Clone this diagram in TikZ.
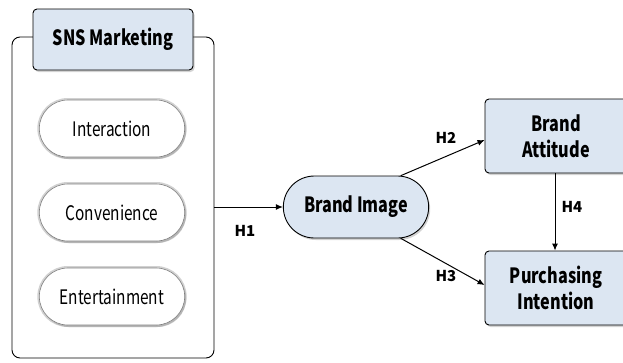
\documentclass[tikz,border=0pt]{standalone}
\usepackage{fontspec}
\setmainfont{Noto Sans CJK KR}
\newfontfamily\tallfont{Noto Sans CJK KR}[FakeStretch=0.77]
\usetikzlibrary{arrows.meta,shadows,shapes.misc}
\definecolor{boxblue}{HTML}{DCE6F2}
\tikzset{
  shade/.style={drop shadow={shadow xshift=1.5pt, shadow yshift=-2pt, opacity=0.35}},
  group/.style={draw=black, line width=0.9pt, rounded corners=8pt},
  title/.style={draw=black, line width=0.9pt, rounded corners=4pt, fill=boxblue, shade,
    minimum width=160pt, minimum height=61pt, font=\tallfont\bfseries\fontsize{21}{26}\selectfont},
  pill/.style={rounded rectangle, fill=white, draw=black!50, line width=0.6pt,
    preaction={draw=black!18, line width=4pt}, shade,
    minimum width=152pt, minimum height=57pt, font=\tallfont\fontsize{20}{26}\selectfont},
  core/.style={rounded rectangle, draw=black, line width=0.9pt, fill=boxblue, shade,
    minimum width=152pt, minimum height=62pt, font=\tallfont\bfseries\fontsize{21}{26}\selectfont},
  result/.style={draw=black, line width=0.9pt, rounded corners=4pt, fill=boxblue, shade,
    minimum width=142pt, minimum height=74pt, align=center,
    font=\tallfont\bfseries\fontsize{21}{26}\selectfont},
  link/.style={-{Latex[length=7pt,width=6pt]}, line width=1pt},
  hyp/.style={font=\bfseries\fontsize{15}{18}\selectfont}
}
\begin{document}
\begin{tikzpicture}[x=1pt,y=-1pt]
      %%%%% START %%%%%
      \useasboundingbox (0,0) rectangle (623,362);
      \clip (0,0) rectangle (623,362);

      \node[group, minimum width=202pt, minimum height=321pt] (sns) at (113,197.5) {};
      \node[title] (snstitle) at (113,39.5) {SNS Marketing};

      \node[pill] (inter) at (112,128.5) {Interaction};
      \node[pill] (conv) at (112,212.5) {Convenience};
      \node[pill] (enter) at (112,296.5) {Entertainment};

      \node[core] (img) at (356,207) {Brand Image};
      \node[result] (att) at (556,136) {Brand\\Attitude};
      \node[result] (pur) at (556,288) {Purchasing\\Intention};

      \draw[link] (sns.east |- img.west) -- (img.west);
      \draw[link] (img.35) -- (att.west |- 0,140);
      \draw[link] (img.-35) -- (pur.west |- 0,285);
      \draw[link] (att.south -| 555,0) -- (pur.north -| 555,0);

      \node[hyp] (h1) at (245,231) {H1};
      \node[hyp] (h2) at (446,138) {H2};
      \node[hyp] (h3) at (446,276) {H3};
      \node[hyp] (h4) at (572,207) {H4};
      %%%%% END %%%%%
\end{tikzpicture}
\end{document}
